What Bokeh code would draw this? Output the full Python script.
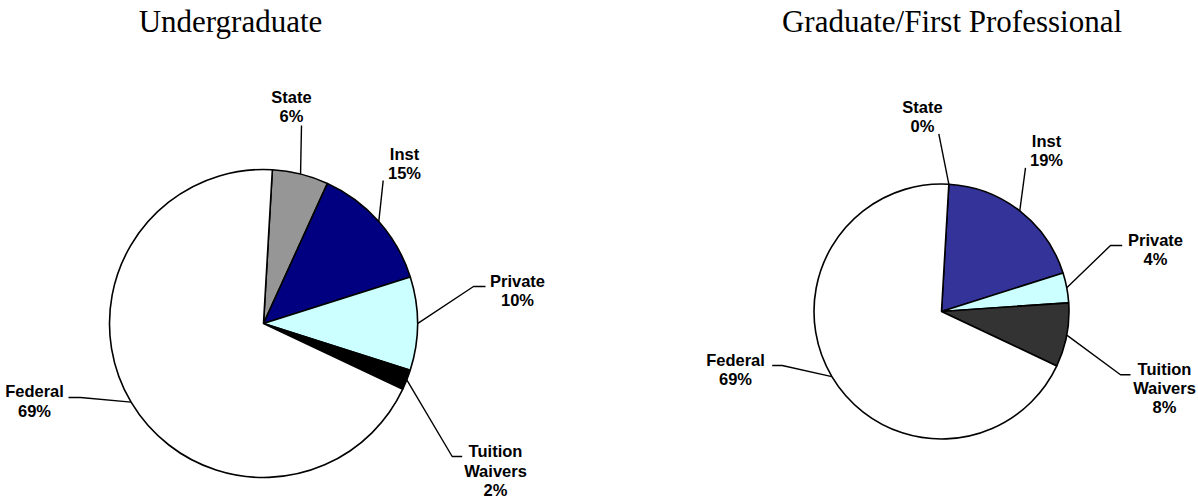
import math
from bokeh.plotting import figure
from bokeh.models import Range1d, ColumnDataSource
from bokeh.embed import file_html
from bokeh.resources import INLINE
from bokeh.core.properties import value

# ---------------- data ----------------
categories = ["State", "Inst", "Private", "Tuition\nWaivers", "Federal"]
ug_values = [5.9, 13.3, 9.8, 2.1, 68.9]
ug_pct_labels = ["6%", "15%", "10%", "2%", "69%"]
gr_values = [0.0, 19.2, 3.8, 8.1, 68.9]
gr_pct_labels = ["0%", "19%", "4%", "8%", "69%"]
titles = ["Undergraduate", "Graduate/First Professional"]

ug_colors = ["#969696", "#000080", "#CCFFFF", "#000000", "#FFFFFF"]
gr_colors = ["#969696", "#333399", "#CCFFFF", "#333333", "#FFFFFF"]

# ---------------- layout (screen px) ----------------
W, H = 1198, 498
TEXT_DY = -6.5


def X(sx):
    return sx


def Y(sy):
    return H - sy


p = figure(width=W, height=H, x_range=Range1d(0, W), y_range=Range1d(0, H),
           output_backend="svg", toolbar_location=None, min_border=0,
           x_axis_type=None, y_axis_type=None)
p.grid.visible = False
p.outline_line_color = None
p.background_fill_color = "white"
p.border_fill_color = "white"

START_OFFSET = 3.3  # degrees clockwise from 12 o'clock
LINE_H = 19.2

pies = [
    dict(cx=263, cy=323, r=154, values=ug_values, colors=ug_colors,
         pct=ug_pct_labels, title=titles[0], title_x=230,
         # label anchor (center x, first baseline y) per slice
         label_pos=[(291, 102.7), (404, 160), (517, 286.7), (495, 457.3), (34, 397.3)],
         # extra leader points after the slice edge point
         leader=[[(301, 125)], [(382.7, 180)], [(473, 286), (485, 286)],
                 [(451.7, 456), (461.7, 456)], [(80, 397), (68, 397)]]),
    dict(cx=941, cy=311, r=127.5, values=gr_values, colors=gr_colors,
         pct=gr_pct_labels, title=titles[1], title_x=951.5,
         label_pos=[(922, 112.7), (1046, 146.7), (1155, 246), (1164, 375), (735, 366)],
         leader=[[(938.3, 133.3)], [(1025, 167.3)], [(1110, 245), (1121.7, 245)],
                 [(1120, 374.3), (1130, 374.3)], [(781.7, 365), (771.7, 365)]]),
]

for pie in pies:
    cx, cy, r = pie["cx"], pie["cy"], pie["r"]
    vals = pie["values"]
    total = float(sum(vals))
    cum = 0.0
    ws = dict(x=[], y=[], sa=[], ea=[], color=[])
    for i, v in enumerate(vals):
        a1 = START_OFFSET + cum / total * 360.0
        a2 = a1 + v / total * 360.0
        mid = (a1 + a2) / 2.0
        cum += v
        if v > 0:
            ws["x"].append(X(cx))
            ws["y"].append(Y(cy))
            ws["sa"].append(math.radians(90 - a1))
            ws["ea"].append(math.radians(90 - a2))
            ws["color"].append(pie["colors"][i])
        # leader line from slice edge midpoint
        ex = cx + r * math.sin(math.radians(mid))
        ey = cy - r * math.cos(math.radians(mid))
        pts = [(ex, ey)] + pie["leader"][i]
        p.line([X(a) for a, b in pts], [Y(b) for a, b in pts],
               line_color="black", line_width=1.4)
        # label lines
        lines = categories[i].split("\n") + [pie["pct"][i]]
        lx, ly = pie["label_pos"][i]
        p.text(x=[X(lx)] * len(lines),
               y=[Y(ly + TEXT_DY + k * LINE_H) for k in range(len(lines))],
               text=lines, text_font=value("Liberation Sans"),
               text_font_style="bold", text_font_size="16.5px",
               text_align="center", text_baseline="alphabetic",
               text_color="black")
    src = ColumnDataSource(ws)
    p.wedge(x="x", y="y", radius=r, start_angle="sa", end_angle="ea",
            direction="clock", fill_color="color", line_color="black",
            line_width=1.6, source=src)
    p.text(x=[X(pie["title_x"])], y=[Y(27 + TEXT_DY)], text=[pie["title"]],
           text_font=value("Liberation Serif"), text_font_size="31px",
           text_align="center", text_baseline="alphabetic", text_color="black")

open("out.html", "w").write(file_html(p, INLINE))
